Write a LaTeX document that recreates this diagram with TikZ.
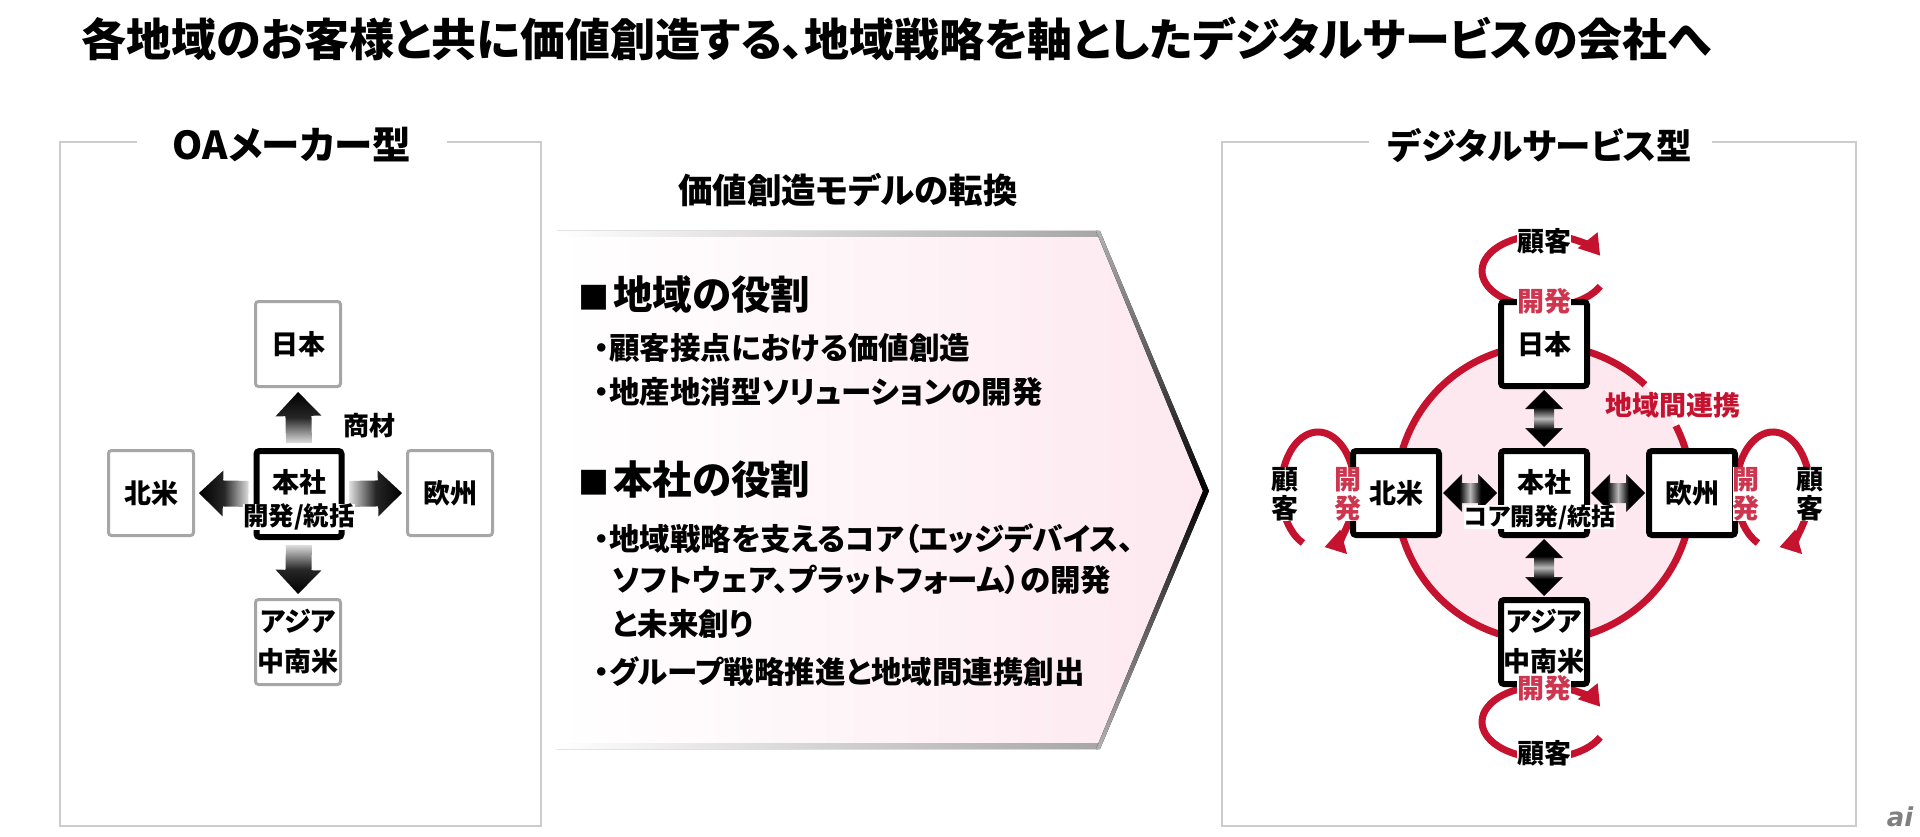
\documentclass[tikz,border=0pt]{standalone}
\usepackage{fontspec}
\usetikzlibrary{arrows.meta,calc}
\setmainfont{Noto Sans CJK JP}[RawFeature=+palt]
\newfontfamily\logofont{DejaVu Sans}
\definecolor{crimson}{HTML}{C4122F}
\definecolor{blush}{HTML}{FDE8EF}
\pgfdeclareverticalshading{twofade}{100bp}{color(0bp)=(black); color(40bp)=(black); color(50bp)=(gray!55); color(60bp)=(black); color(100bp)=(black)}
\tikzset{
    txt/.style={font=\bfseries\fontsize{#1}{29}\selectfont,inner sep=0pt,align=center},
    oabox/.style={draw=gray!70,line width=3pt,rounded corners=3pt,fill=white,minimum width=85pt,minimum height=85pt,txt=27},
    dsbox/.style={draw=black,line width=6pt,rounded corners=3pt,fill=white,minimum width=86pt,minimum height=84pt,txt=27},
    hqline/.style={txt=24,fill=white},
    redloop/.style={draw=crimson,line width=7pt,-{Triangle[length=20pt,width=24pt]}},
    devtxt/.style={txt=27,text=crimson!85!white,fill=white},
    custtxt/.style={txt=27,fill=white},
    frame/.style={draw=gray!40,line width=2pt},
    bodytxt/.style={txt=30.5,anchor=west,align=left},
    headtxt/.style={txt=39.5,anchor=west,align=left}
}
\newcommand{\headmark}{{\fontsize{31}{29}\selectfont ■}\hspace{4pt}}
% base, tip, shading angle
\newcommand{\fadearrow}[3]{
    \coordinate (base) at ($(#1)!5pt!(#2)$);
    \coordinate (tip) at ($(#2)!4pt!(#1)$);
    \coordinate (neck) at ($(tip)!24pt!(base)$);
    \path[top color=black,bottom color=gray!25,middle color=black!85,shading angle=#3]
        ($(base)!13pt!90:(tip)$)--($(neck)!13pt!90:(tip)$)--($(neck)!23pt!90:(tip)$)--(tip)
        --($(neck)!23pt!-90:(tip)$)--($(neck)!13pt!-90:(tip)$)--($(base)!13pt!-90:(tip)$)--cycle;
}
\newcommand{\twoarrow}[3]{
    \coordinate (tipa) at ($(#1)!1pt!(#2)$);
    \coordinate (tipb) at ($(#2)!1pt!(#1)$);
    \coordinate (necka) at ($(tipa)!19pt!(tipb)$);
    \coordinate (neckb) at ($(tipb)!19pt!(tipa)$);
    \path[shading=twofade,shading angle=#3]
        (tipa)--($(necka)!19pt!90:(tipb)$)--($(necka)!10pt!90:(tipb)$)--($(neckb)!10pt!-90:(tipa)$)--($(neckb)!19pt!-90:(tipa)$)
        --(tipb)--($(neckb)!19pt!90:(tipa)$)--($(neckb)!10pt!90:(tipa)$)--($(necka)!10pt!-90:(tipb)$)--($(necka)!19pt!-90:(tipb)$)--cycle;
}
\begin{document}
\begin{tikzpicture}[x=1pt,y=-1pt]
\useasboundingbox (0,0) rectangle (1920,837);
\node[txt=45,anchor=west] (title) at (81,39) {各地域のお客様と共に価値創造する、地域戦略を軸としたデジタルサービスの会社へ};

% frames
\coordinate (la) at (60,142);
\coordinate (lb) at (541,826);
\coordinate (ra) at (1222,142);
\coordinate (rb) at (1856,826);
\draw[frame] (137,142)--(la)--(la|-lb)--(lb)--(lb|-la)--(447,142);
\draw[frame] (1369,142)--(ra)--(ra|-rb)--(rb)--(rb|-ra)--(1712,142);
\node[txt=38.5] (oatitle) at (292,145) {OAメーカー型};
\node[txt=35.5] (dstitle) at (1540,145) {デジタルサービス型};
\node[txt=34.5] (midtitle) at (848,190) {価値創造モデルの転換};

% pentagon
\fill[left color=white,right color=blush] (557,234)--(1098,234)--(1206,491)--(1098,746)--(557,746)--cycle;
\fill[left color=white,right color=gray!70] (557,231)--(1098,231)--(1100,237)--(557,237)--cycle;
\fill[left color=white,right color=gray!70] (557,743)--(1100,743)--(1098,749)--(557,749)--cycle;
\fill[top color=gray!60,bottom color=black] (1096,231)--(1100,231)--(1209,491)--(1203,491)--cycle;
\fill[top color=black,bottom color=gray!60] (1203,491)--(1209,491)--(1100,749)--(1096,749)--cycle;

\node[headtxt] (regionhead) at (578,295) {\headmark 地域の役割};
\node[bodytxt] (regiona) at (594,348) {・顧客接点における価値創造};
\node[bodytxt] (regionb) at (594,392) {・地産地消型ソリューションの開発};
\node[headtxt] (hqhead) at (578,480) {\headmark 本社の役割};
\node[bodytxt] (hqa) at (594,539) {・地域戦略を支えるコア（エッジデバイス、};
\node[bodytxt] (hqb) at (612,580) {ソフトウェア、プラットフォーム）の開発};
\node[bodytxt] (hqc) at (612,624) {と未来創り};
\node[bodytxt] (hqd) at (594,672) {・グループ戦略推進と地域間連携創出};

% left diagram
\node[oabox] (jp) at (298,344) {日本};
\node[oabox] (na) at (151,493) {北米};
\node[oabox] (eu) at (450,493) {欧州};
\node[oabox] (as) at (298,642) {アジア\\[11pt]中南米};
\node[dsbox,minimum width=85pt,minimum height=86pt] (hq) at (299,494) {};
\fadearrow{hq.north}{jp.south}{0}
\fadearrow{hq.south}{as.north}{180}
\fadearrow{hq.east}{eu.west}{-90}
\fadearrow{hq.west}{na.east}{90}
\node[txt=27] (hqname) at (299,482) {本社};
\node[hqline,txt=25.5] (hqrole) at (299,517) {開発/統括};
\node[txt=26] (goods) at (369,426) {商材};

% right diagram
\fill[blush] (1544,493) circle (148);
\draw[crimson,line width=7pt] (1544,493) ++(-27:148) arc[start angle=-27,end angle=313,radius=148];
\coordinate (jploop) at (1544,271);
\coordinate (asloop) at (1544,722);
\coordinate (naloop) at (1318,490);
\coordinate (euloop) at (1773,490);
\foreach \hloop in {jploop,asloop}
    \draw[redloop] (\hloop) ++(25:62 and 36) arc[start angle=25,end angle=335,x radius=62,y radius=36];
\foreach \vloop in {naloop,euloop}
    \draw[redloop] (\vloop) ++(114:37 and 58) arc[start angle=114,end angle=440,x radius=37,y radius=58];
\node[dsbox] (djp) at (1544,344) {日本};
\node[dsbox] (dna) at (1396,493) {北米};
\node[dsbox] (deu) at (1692,493) {欧州};
\node[dsbox] (das) at (1544,642) {アジア\\[11pt]中南米};
\node[dsbox] (dhq) at (1544,493) {};
\twoarrow{dhq.north}{djp.south}{0}
\twoarrow{dhq.south}{das.north}{0}
\twoarrow{dhq.west}{dna.east}{90}
\twoarrow{dhq.east}{deu.west}{90}
\node[txt=27] (dhqname) at (1544,482) {本社};
\node[hqline] (dhqrole) at (1540,517) {コア開発/統括};
\node[txt=27,text=crimson] (link) at (1673,405) {地域間連携};
\node[custtxt] (jpcust) at (1544,241) {顧客};
\node[devtxt] (jpdev) at (1544,301) {開発};
\node[devtxt] (asdev) at (1544,688) {開発};
\node[custtxt] (ascust) at (1544,753) {顧客};
\node[custtxt] (nacust) at (1285,494) {顧\\客};
\node[devtxt] (nadev) at (1348,494) {開\\発};
\node[devtxt] (eudev) at (1746,494) {開\\発};
\node[custtxt] (eucust) at (1810,494) {顧\\客};
\node[inner sep=0pt,text=gray,font=\logofont\bfseries\itshape\fontsize{26}{26}\selectfont] (logo) at (1900,817) {ai};
\end{tikzpicture}
\end{document}
